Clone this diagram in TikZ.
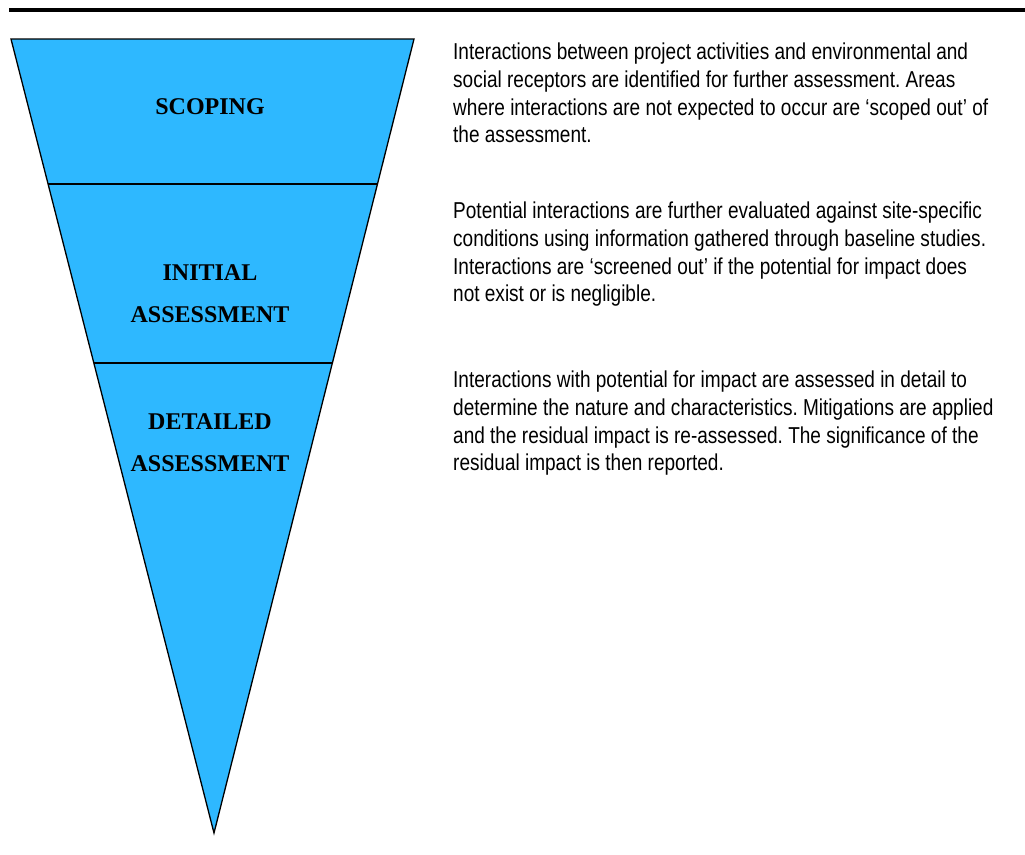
\documentclass[tikz,border=0pt]{standalone}
\usepackage{fontspec}
\usetikzlibrary{calc}
\setmainfont{Liberation Sans}[FakeStretch=0.827]
\newfontfamily\headfont{Liberation Serif}
\definecolor{funnelblue}{RGB}{46,184,255}
\frenchspacing
\begin{document}
\begin{tikzpicture}[x=1pt,y=-1pt,
  stage/.style={font=\headfont\bfseries\fontsize{24}{42}\selectfont, align=center, inner sep=0pt},
  note/.style={font=\fontsize{23}{27.7}\selectfont, align=left, anchor=north west, inner sep=0pt},
  edge/.style={draw=black, line width=1.3pt, line join=miter}]
\useasboundingbox (0,0) rectangle (1025,854);
% heading rule
\draw[line width=4pt] (9,10) -- (1025,10);
% funnel corners and divider ends
\coordinate (tl) at (11,39);
\coordinate (tr) at (414,39);
\coordinate (tip) at (214,833);
\coordinate (al) at ($(tl)!0.1826!(tip)$);
\coordinate (ar) at ($(tr)!0.1826!(tip)$);
\coordinate (bl) at ($(tl)!0.4081!(tip)$);
\coordinate (br) at ($(tr)!0.4081!(tip)$);
\fill[funnelblue] (tl) -- (tr) -- (tip) -- cycle;
\draw[edge] (tl) -- (tr) -- (tip) -- cycle;
\draw[line width=1.3pt] (al) -- (ar);
\draw[line width=1.3pt] (bl) -- (br);
% stage labels
\node[stage] (scoping) at (210,107) {SCOPING};
\node[stage] (initial) at (210,294) {INITIAL\\ASSESSMENT};
\node[stage] (detailed) at (210,443) {DETAILED\\ASSESSMENT};
% descriptions
\node[note] (d1) at (453,43) {Interactions between project activities and environmental and\\social receptors are identified for further assessment. Areas\\where interactions are not expected to occur are `scoped out' of\\the assessment.};
\node[note] (d2) at (453,202) {Potential interactions are further evaluated against site-specific\\conditions using information gathered through baseline studies.\\Interactions are `screened out' if the potential for impact does\\not exist or is negligible.};
\node[note] (d3) at (453,371) {Interactions with potential for impact are assessed in detail to\\determine the nature and characteristics. Mitigations are applied\\and the residual impact is re-assessed. The significance of the\\residual impact is then reported.};
\end{tikzpicture}
\end{document}
